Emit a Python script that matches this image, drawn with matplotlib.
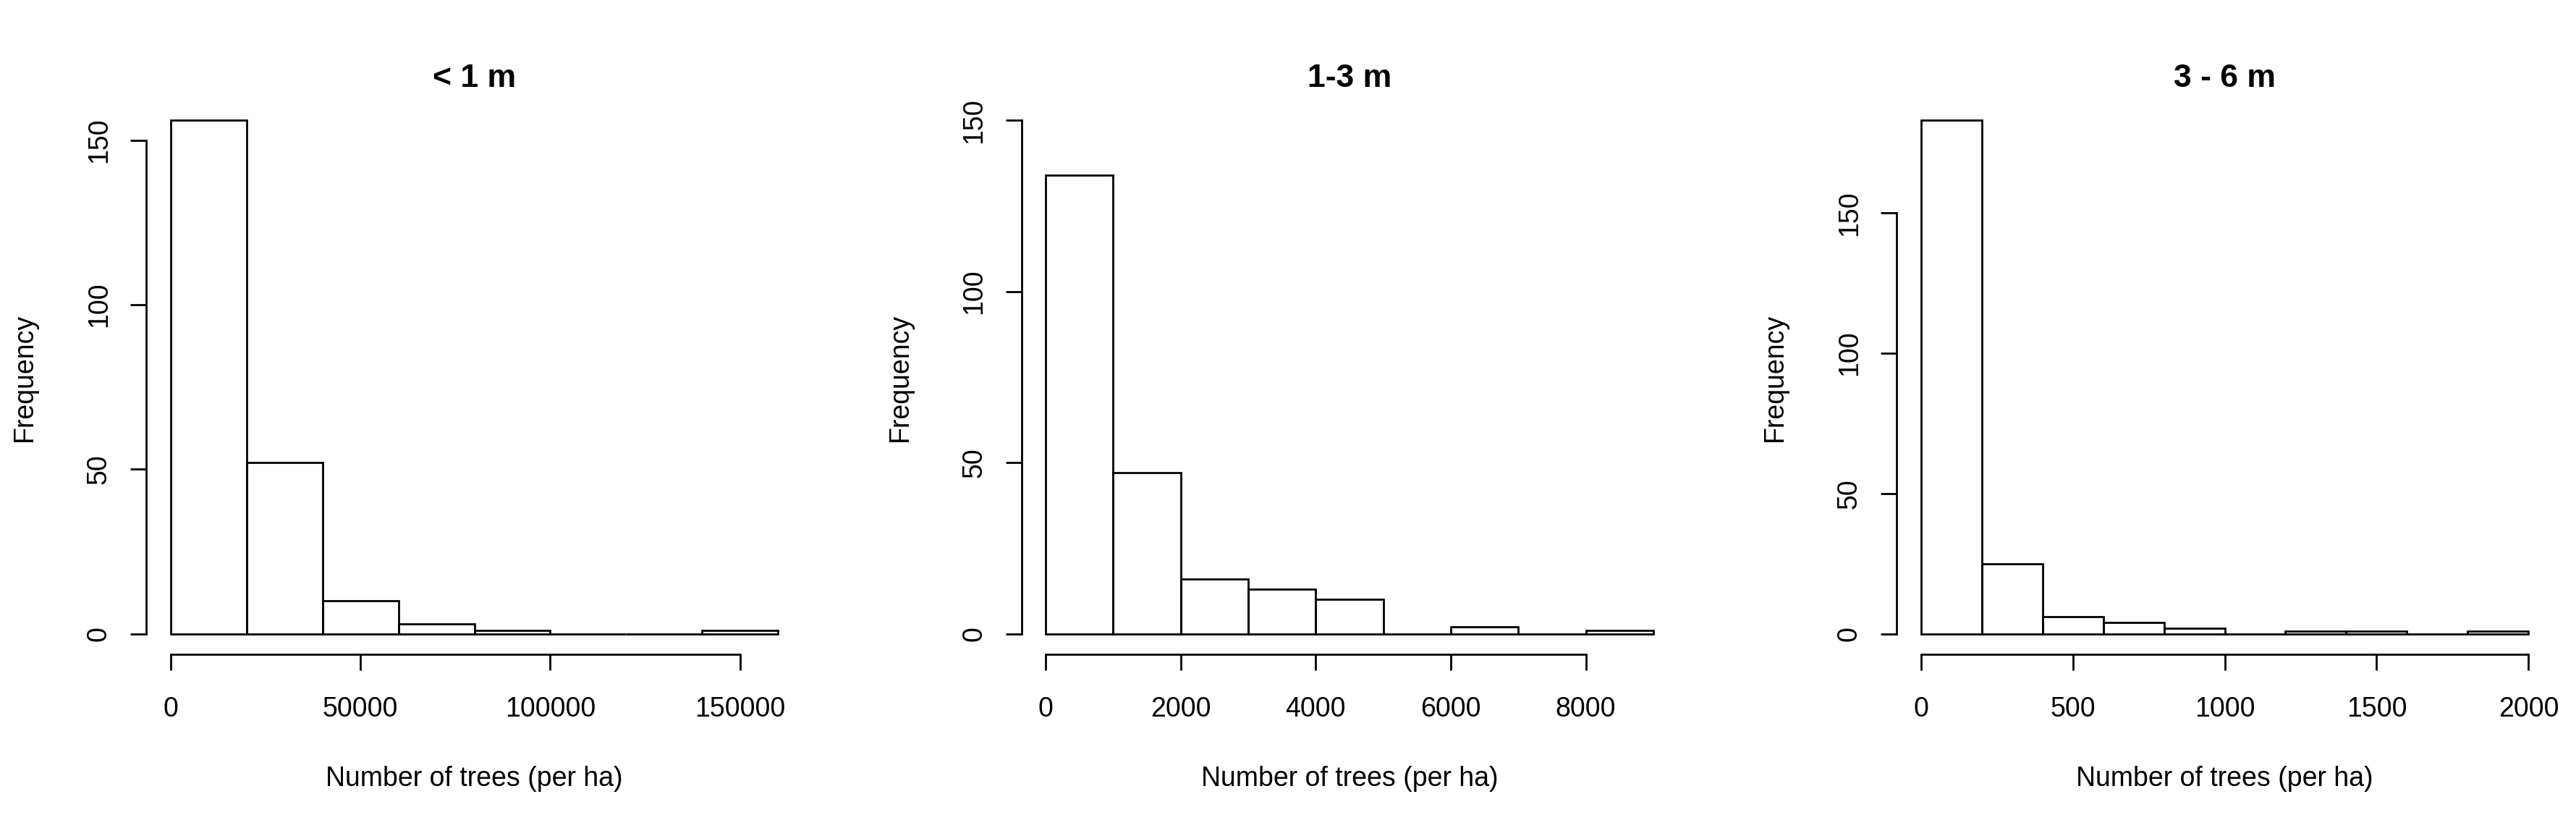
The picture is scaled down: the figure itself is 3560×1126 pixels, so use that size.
import matplotlib
matplotlib.use("Agg")
import matplotlib.pyplot as plt
import numpy as np

plt.rcParams['font.family'] = ['Liberation Sans', 'DejaVu Sans']

# histogram data
titles = ["< 1 m", "1-3 m", "3 - 6 m"]

breaks_1 = [0, 20000, 40000, 60000, 80000, 100000, 120000, 140000, 160000]
counts_1 = [156, 52, 10, 3, 1, 0, 0, 1]
xticks_1 = [0, 50000, 100000, 150000]

breaks_2 = [0, 1000, 2000, 3000, 4000, 5000, 6000, 7000, 8000, 9000]
counts_2 = [134, 47, 16, 13, 10, 0, 2, 0, 1]
xticks_2 = [0, 2000, 4000, 6000, 8000]

breaks_3 = [0, 200, 400, 600, 800, 1000, 1200, 1400, 1600, 1800, 2000]
counts_3 = [183, 25, 6, 4, 2, 0, 1, 1, 0, 1]
xticks_3 = [0, 500, 1000, 1500, 2000]

yticks = [0, 50, 100, 150]
ytop = [None, 150, None]   # second panel had ylim fixed to 150

xlabel = "Number of trees (per ha)"
ylabel = "Frequency"

W, H = 3560, 1126
fig = plt.figure(figsize=(W / 100, H / 100), dpi=100)

panels = [(breaks_1, counts_1, xticks_1),
          (breaks_2, counts_2, xticks_2),
          (breaks_3, counts_3, xticks_3)]

lw = 2.0
fs = 27

for i, (breaks, counts, xt) in enumerate(panels):
    left = (202 + 1209.5 * i) / W
    ax = fig.add_axes([left, 222 / H, 907 / W, 766 / H])

    br = np.array(breaks, dtype=float)
    widths = np.diff(br)
    ax.bar(br[:-1], counts, width=widths, align='edge', fill=False,
           edgecolor='black', linewidth=lw)

    # R style limits: data range padded by 4%
    x0, x1 = br[0], br[-1]
    ax.set_xlim(x0 - 0.04 * (x1 - x0), x1 + 0.04 * (x1 - x0))
    y1 = ytop[i] if ytop[i] is not None else max(counts)
    ax.set_ylim(-0.04 * y1, y1 * 1.04)

    for s in ['top', 'right']:
        ax.spines[s].set_visible(False)
    ax.spines['left'].set_bounds(yticks[0], yticks[-1])
    ax.spines['bottom'].set_bounds(xt[0], xt[-1])
    ax.spines['left'].set_linewidth(lw)
    ax.spines['bottom'].set_linewidth(lw)

    ax.set_xticks(xt)
    ax.set_xticklabels([str(v) for v in xt])
    ax.set_yticks(yticks)
    ax.set_yticklabels([str(v) for v in yticks], rotation=90, va='center')
    ax.tick_params(direction='out', length=16, width=lw, labelsize=fs)
    ax.tick_params(axis='y', pad=18)
    ax.tick_params(axis='x', pad=26)

    ax.set_xlabel(xlabel, fontsize=fs)
    ax.xaxis.set_label_coords(0.5, -0.2245)
    ax.xaxis.label.set_va('center')
    ax.set_ylabel(ylabel, fontsize=fs)
    ax.yaxis.set_label_coords(-0.185, 0.5)
    ax.yaxis.label.set_va('center')

    ax.text(0.5, 1.038, titles[i], transform=ax.transAxes, ha='center',
            va='center', fontsize=32, fontweight='bold')

fig.savefig("out.png", dpi=100, facecolor='white')
